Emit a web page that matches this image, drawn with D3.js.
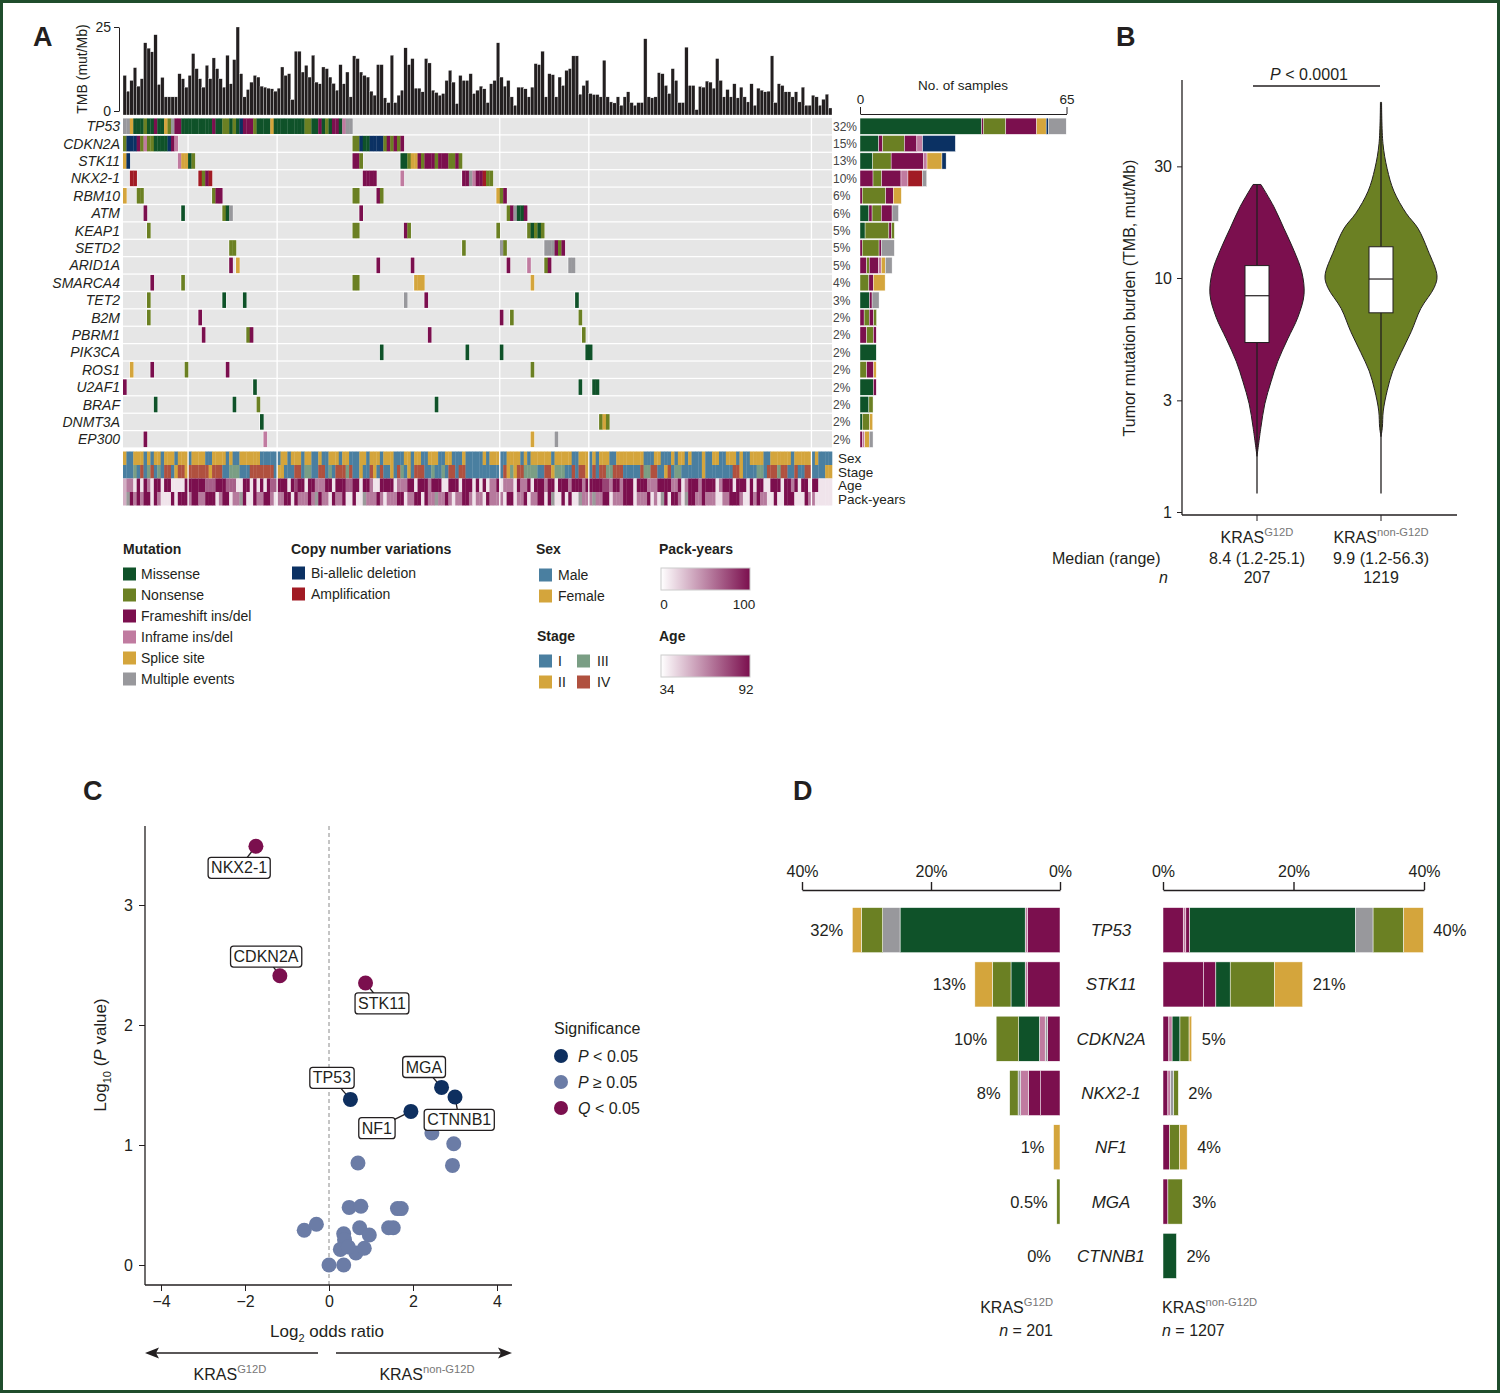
<!DOCTYPE html>
<html>
<head>
<meta charset="utf-8">
<script src="https://cdn.jsdelivr.net/npm/d3@7"></script>
<style>
body { margin: 0; background: #fff; }
svg text { font-family: "Liberation Sans", Arial, Helvetica, sans-serif; fill: #231f20; }
</style>
</head>
<body>
<div id="chart"></div>
<script>
// ---------------- data ----------------

// Panel A: TMB per sample (mut/Mb)
var tmb = [10.6,5.9,9.1,12.9,7.4,9.6,20.3,18.7,17.6,22.7,7.9,10.0,4.2,4.2,4.2,4.2,11.1,9.6,7.1,10.6,
  17.1,12.6,9.6,7.1,13.6,9.6,15.8,12.6,9.6,7.1,16.6,8.1,15.3,25.0,11.1,4.2,6.4,8.6,10.6,10.1,
  7.4,7.1,6.8,6.6,5.9,6.8,13.1,10.6,11.1,3.4,17.8,17.8,11.6,13.6,10.1,16.6,8.6,8.1,13.1,12.6,
  10.1,8.2,6.2,13.8,8.1,11.6,4.2,16.4,15.6,11.6,10.6,10.1,5.9,4.7,13.8,13.8,3.9,2.5,16.6,2.5,
  4.7,6.2,18.8,13.8,15.6,6.8,6.8,5.7,15.6,14.3,6.2,5.5,4.7,5.2,9.1,12.1,8.6,2.2,
  10.6,9.1,9.1,11.1,5.2,6.2,7.4,6.6,2.5,8.1,9.1,20.3,10.1,7.4,9.1,4.2,1.7,7.1,7.1,6.6,
  4.2,7.1,14.1,13.8,17.8,4.2,11.1,10.8,4.2,10.1,7.6,12.1,12.6,16.4,16.4,5.0,7.6,9.1,5.2,4.9,
  4.9,4.2,15.1,4.2,2.7,2.4,4.2,1.7,4.2,5.7,2.5,1.7,2.5,2.5,21.5,4.2,3.9,4.2,11.4,11.1,
  7.6,5.2,12.6,9.1,2.5,2.5,19.0,7.6,7.6,0.4,7.3,7.1,8.9,8.6,6.8,15.6,9.1,4.2,6.4,4.2,
  8.1,3.9,7.1,4.2,2.7,8.1,1.7,6.8,6.2,5.7,5.9,16.4,2.5,8.1,7.6,5.7,5.7,4.2,5.7,2.7,
  7.1,1.7,1.7,4.7,4.2,1.7,3.5,5.0,0.9];

var genes = ["TP53","CDKN2A","STK11","NKX2-1","RBM10","ATM","KEAP1","SETD2","ARID1A","SMARCA4",
  "TET2","B2M","PBRM1","PIK3CA","ROS1","U2AF1","BRAF","DNMT3A","EP300"];
var genePct = [32,15,13,10,6,6,5,5,5,4,3,2,2,2,2,2,2,2,2];

// M missense, N nonsense, F frameshift, I inframe, S splice, X multiple, D bi-allelic deletion, A amplification
// [first sample index, codes of consecutive samples]
var oncoRuns = {
  "TP53": [[0,"XXSMMMNMMFMMSNXFFMMMMMMMMMFMMNNMNMDFFFNMMMMSMMMMMMMMMNNMMFMNMFFMIXX"]],
  "CDKN2A": [[0,"NDDDFNINNMMMMDFI"],[67,"NNDMMDDDDNFNFNF"]],
  "STK11": [[0,"SD"],[16,"ISSMN"],[67,"FFN"],[81,"MMNSSFNFFFNFFFNNFN"]],
  "NKX2-1": [[2,"AA"],[22,"ANFA"],[70,"FFFF"],[81,"I"],[99,"FFXIFFANN"]],
  "RBM10": [[0,"S"],[4,"NN"],[26,"NFF"],[67,"NN"],[74,"FN"],[109,"SNF"]],
  "ATM": [[6,"F"],[17,"M"],[29,"NMX"],[69,"F"],[112,"NFXMMF"]],
  "KEAP1": [[7,"N"],[67,"NN"],[82,"FN"],[109,"N"],[118,"NMNMN"]],
  "SETD2": [[31,"NN"],[99,"N"],[110,"XN"],[123,"XXXFNF"]],
  "ARID1A": [[31,"F"],[33,"S"],[74,"F"],[84,"F"],[112,"F"],[118,"I"],[123,"NF"],[130,"XX"]],
  "SMARCA4": [[8,"F"],[17,"N"],[67,"NN"],[85,"SSS"],[119,"S"]],
  "TET2": [[7,"N"],[29,"M"],[35,"M"],[82,"X"],[88,"F"],[132,"M"]],
  "B2M": [[7,"N"],[22,"F"],[110,"F"],[113,"N"],[133,"N"]],
  "PBRM1": [[23,"F"],[36,"NF"],[89,"F"],[134,"N"]],
  "PIK3CA": [[75,"M"],[100,"M"],[110,"M"],[135,"MM"]],
  "ROS1": [[2,"S"],[8,"F"],[18,"N"],[30,"F"],[119,"N"]],
  "U2AF1": [[0,"F"],[38,"M"],[133,"M"],[137,"MM"]],
  "BRAF": [[9,"M"],[32,"M"],[39,"N"],[91,"M"]],
  "DNMT3A": [[40,"M"],[139,"NSN"]],
  "EP300": [[6,"F"],[41,"I"],[119,"S"],[126,"X"]]
};

// sample counts per alteration type (right bar plot)
var geneCounts = {
  "TP53": [["M",38.3],["F",0.5],["N",7.1],["F",9.7],["S",3.0],["D",0.7],["X",5.6]],
  "CDKN2A": [["M",5.9],["F",1.2],["N",6.9],["F",3.9],["I",1.8],["D",10.3]],
  "STK11": [["M",4.0],["N",5.8],["F",10.1],["I",1.2],["S",4.7],["D",1.3]],
  "NKX2-1": [["F",4.1],["N",2.7],["F",6.1],["I",2.2],["A",4.5],["X",1.4]],
  "RBM10": [["F",0.7],["N",7.4],["F",2.4],["S",2.5]],
  "ATM": [["M",2.8],["F",1.0],["N",2.9],["F",3.4],["X",2.0]],
  "KEAP1": [["M",1.6],["N",7.5],["F",0.8],["N",0.9]],
  "SETD2": [["F",0.7],["N",5.3],["F",0.7],["X",4.1]],
  "ARID1A": [["F",2.1],["N",0.8],["F",2.9],["I",0.9],["S",1.3],["X",2.1]],
  "SMARCA4": [["N",2.8],["F",1.4],["S",3.7]],
  "TET2": [["M",3.0],["F",0.8],["X",2.2]],
  "B2M": [["F",1.3],["N",1.6],["F",1.4],["N",0.9]],
  "PBRM1": [["F",2.1],["N",2.1],["F",0.9]],
  "PIK3CA": [["M",5.1]],
  "ROS1": [["N",2.1],["F",2.2],["S",0.8]],
  "U2AF1": [["M",4.2],["F",0.9]],
  "BRAF": [["M",2.8],["N",1.3]],
  "DNMT3A": [["M",0.7],["N",2.3],["S",1.0]],
  "EP300": [["F",0.7],["I",0.8],["S",1.4],["X",1.2]]
};

// clinical tracks (run length: letter + count). Sex F/M, Stage A=I B=II C=III D=IV
var sexRuns = "F1 M2 F3 M1 F1 M1 F2 M1 F3 M1 F3 M1 F4 M2 F4 M1 F1 M2 F6 M6 F2 M1 F3 M1 F2 M2 F1 M2 F3 M1 F2 M3 F2 M1 F3 M1 F3 M3 F2 M1 F2 M2 F3 M2 F2 M3 F1 M3 " +
  "M2 F1 M1 F3 M2 F4 M1 F1 M1 F6 M1 F5 M2 F3 M1 F1 M1 F3 M2 F8 M3 F2 M3 F1 M1 F2 M1 F1 M3 F1 M2 F2 M2 F3 M1 F1 M2 F4 M2 F6 M1 F5 M1 F1 M4";
var stageRuns = "A3 C1 A1 D1 A1 C1 D1 A1 C1 A1 D2 A1 B1 D2 B1 D6 B1 D3 A2 C3 A3 D7 A1 B2 A3 D2 A1 C2 A2 D2 A1 C1 A1 D3 C1 D1 A2 B1 A2 D1 B1 A1 D1 A2 B1 A1 D1 C1 A1 B1 A1 D3 A2 C1 A2 C1 A1 D2 A1 D2 A3 " +
  "A8 D1 B1 C1 B1 D2 C4 A2 D2 B1 C3 A2 D1 A1 D2 B1 A1 D1 A1 D2 C2 D3 A5 D1 C2 D2 A2 B1 D1 A1 C2 A6 B1 A8 D2 B1 A4 C2 A1 D3 C1 D2 A2 D1 A2 D2 A4 B2";
// age and pack-years as shade level 0-9 (x = not available)
var ageLevels = "3551919519 9199111199 9999666999 6661199191 9196699919 7991995559 9199966991 9951199991 5559919995 9991199919 991 " +
  "9191559155 5195591999 5991999599 9599999775 9959991999 5559999559 1599959999 1599919991 9199119991 9959199199 1111";
var packLevels = "3x95959919 5111919995 9955999159 9155x91195 5995155991 955595x955 1955911911 x555951555 9915599195 5x55951559 951 " +
  "5519555519 9155915599 19x1191911 x555x55991 5559991555 9151x91995 1x99559555 1155999511 9595511911 9991119551 1111";

// Panel B: violin profiles [TMB, relative density] and box summaries
var violinG12D = [[25.1,0.07],[20.2,0.30],[16.3,0.48],[13.1,0.66],[10.6,0.80],[8.5,0.84],[6.8,0.73],
  [5.5,0.55],[4.4,0.37],[3.6,0.25],[2.9,0.14],[2.3,0.07],[1.73,0.0]];
var violinOther = [[56.3,0.01],[37.5,0.035],[29.3,0.11],[23.5,0.23],[18.9,0.45],[16.3,0.66],[13.1,0.84],
  [10.2,1.0],[9.1,0.95],[7.4,0.71],[5.9,0.54],[4.8,0.36],[4.0,0.21],[3.3,0.11],[2.7,0.04],[2.3,0.024],[2.1,0.0]];
var boxStats = [
  {min: 1.2, q1: 5.3, med: 8.4, q3: 11.3, max: 25.1},
  {min: 1.2, q1: 7.1, med: 9.9, q3: 13.6, max: 56.3}
];
var groupMedian = ["8.4 (1.2-25.1)", "9.9 (1.2-56.3)"];
var groupN = ["207", "1219"];

// Panel C: volcano points (log2 OR, -log10 P)
var cLabeled = [
  {g: "NKX2-1", x: -1.74, y: 3.49, s: "Q", lx: -2.14, ly: 3.31},
  {g: "CDKN2A", x: -1.17, y: 2.41, s: "Q", lx: -1.5, ly: 2.57},
  {g: "STK11", x: 0.87, y: 2.35, s: "Q", lx: 1.26, ly: 2.18},
  {g: "TP53", x: 0.51, y: 1.38, s: "P", lx: 0.07, ly: 1.56},
  {g: "MGA", x: 2.68, y: 1.48, s: "P", lx: 2.26, ly: 1.65},
  {g: "NF1", x: 1.95, y: 1.28, s: "P", lx: 1.14, ly: 1.14},
  {g: "CTNNB1", x: 3.0, y: 1.40, s: "P", lx: 3.1, ly: 1.21}
];
var cOther = [[2.45,1.10],[2.97,1.01],[2.94,0.83],[0.69,0.85],[0.48,0.48],[0.76,0.49],[1.63,0.47],[1.72,0.47],
  [-0.59,0.29],[-0.30,0.34],[0.35,0.26],[0.37,0.21],[0.73,0.31],[0.96,0.25],[1.42,0.31],[1.53,0.31],
  [0.27,0.13],[0.64,0.10],[0.84,0.14],[0.0,0.0],[0.35,0.0],[0.46,0.15]];

// Panel D: percent of samples by alteration type
var dGenes = ["TP53","STK11","CDKN2A","NKX2-1","NF1","MGA","CTNNB1"];
var dPctG12D = ["32%","13%","10%","8%","1%","0.5%","0%"];
var dPctOther = ["40%","21%","5%","2%","4%","3%","2%"];
var dSegG12D = [
  [["F",5.0],["I",0.4],["M",19.4],["X",2.7],["N",3.3],["S",1.4]],
  [["F",5.0],["I",0.4],["M",2.2],["N",2.9],["S",2.7]],
  [["F",1.9],["X",0.4],["I",0.9],["M",3.2],["N",3.5]],
  [["F",3.0],["F",1.9],["I",1.2],["X",0.4],["N",1.3]],
  [["S",1.0]],
  [["N",0.5]],
  []
];
var dSegOther = [
  [["F",3.1],["I",0.4],["F",0.6],["M",25.4],["X",2.7],["N",4.7],["S",3.0]],
  [["F",6.2],["F",1.9],["M",2.2],["N",6.8],["S",4.3]],
  [["F",0.9],["I",0.5],["M",1.2],["N",1.4],["S",0.4]],
  [["F",0.75],["I",0.4],["X",0.5],["N",0.7]],
  [["F",1.0],["N",1.5],["S",1.2]],
  [["F",0.75],["N",2.2]],
  [["M",2.06]]
];

// ---------------- colours ----------------
var mutColor = {M: "#0f5229", N: "#6b8023", F: "#7b0f4e", I: "#c07ba0", S: "#d4a53c", X: "#98989c", D: "#0b3163", A: "#a11b24"};
var sexColor = {M: "#4a7fa0", F: "#d4a53c"};
var stageColor = {A: "#4a7fa0", B: "#d4a53c", C: "#7a9e84", D: "#b0513f"};
var shade = d3.scaleLinear().domain([0, 9]).range(["#ffffff", "#7b0f4e"]);
var sigColor = {Q: "#7b0f4e", P: "#0e2f5f", ns: "#6b7ca6"};

function rle(s) {
  var out = [];
  s.replace(/([A-Z])(\d+)/g, function(m, c, n) { for (var i = 0; i < +n; i++) out.push(c); });
  return out;
}
function levels(s) { return s.replace(/\s/g, "").split(""); }

var W = 1500, H = 1393;
var svg = d3.select("#chart").append("svg").attr("width", W).attr("height", H);

svg.append("rect").attr("x", 1.5).attr("y", 1.5).attr("width", W - 3).attr("height", H - 3)
  .attr("fill", "#fff").attr("stroke", "#1f4d2c").attr("stroke-width", 3);

// panel letters
[["A", 33, 46], ["B", 1116, 46], ["C", 83, 800], ["D", 793, 800]].forEach(function(p) {
  svg.append("text").attr("x", p[1]).attr("y", p[2]).attr("font-size", 27).attr("font-weight", "bold").text(p[0]);
});

// ================= Panel A =================
var N = tmb.length;
var xs = d3.scaleBand().domain(d3.range(N)).range([123, 832]);
var yT = d3.scaleLinear().domain([0, 25]).range([111, 27]);
var barBase = 115;

var gA = svg.append("g");

gA.selectAll(".tmb").data(tmb).enter().append("rect")
  .attr("x", function(d, i) { return xs(i); })
  .attr("y", function(d) { return yT(d); })
  .attr("width", xs.bandwidth())
  .attr("height", function(d) { return barBase - yT(d); })
  .attr("fill", "#231f20").attr("stroke", "#fff").attr("stroke-width", 0.3);

var tmbAxis = gA.append("g").attr("transform", "translate(119,0)")
  .call(d3.axisLeft(yT).tickValues([0, 25]).tickSize(5).tickSizeOuter(0));
tmbAxis.selectAll("text").attr("font-size", 14).attr("font-family", "Liberation Sans, Arial").attr("fill", "#231f20");
tmbAxis.selectAll("path,line").attr("stroke", "#231f20");

gA.append("text").attr("transform", "translate(87,69) rotate(-90)").attr("text-anchor", "middle")
  .attr("font-size", 14).text("TMB (mut/Mb)");

// oncoprint rows
var yRow = d3.scaleBand().domain(genes).range([117.5, 448]).paddingInner(0.07).paddingOuter(0.035);

gA.selectAll(".rowbg").data(genes).enter().append("rect")
  .attr("x", 123).attr("width", 832 - 123)
  .attr("y", function(g) { return yRow(g); }).attr("height", yRow.bandwidth())
  .attr("fill", "#e6e6e6");

// clinical tracks
var tracks = [
  {name: "Sex", vals: rle(sexRuns), col: function(v) { return sexColor[v]; }},
  {name: "Stage", vals: rle(stageRuns), col: function(v) { return stageColor[v]; }},
  {name: "Age", vals: levels(ageLevels), col: function(v) { return v === "x" ? "#9a9a9a" : shade(+v); }},
  {name: "Pack-years", vals: levels(packLevels), col: function(v) { return v === "x" ? "#9a9a9a" : shade(+v); }}
];
var yTrack = d3.scaleBand().domain(tracks.map(function(t) { return t.name; })).range([451.5, 505.5]);

tracks.forEach(function(t) {
  gA.append("g").selectAll("rect").data(t.vals.slice(0, N)).enter().append("rect")
    .attr("x", function(d, i) { return xs(i); })
    .attr("width", xs.bandwidth() + 0.3)
    .attr("y", yTrack(t.name)).attr("height", yTrack.bandwidth())
    .attr("fill", function(d) { return t.col(d); });
  gA.append("text").attr("x", 838).attr("y", yTrack(t.name) + yTrack.bandwidth() / 2 + 5)
    .attr("font-size", 13.5).text(t.name);
});

// white group separators
var gridAt = [19, 45, 110, 136, 201];
gA.selectAll(".grid").data(gridAt).enter().append("line")
  .attr("x1", function(d) { return xs(d); }).attr("x2", function(d) { return xs(d); })
  .attr("y1", 117).attr("y2", 506)
  .attr("stroke", "#fff").attr("stroke-width", 1.3);

// mutation cells: one rect per sample, white outline per run
genes.forEach(function(g) {
  var cells = [];
  oncoRuns[g].forEach(function(r) {
    r[1].split("").forEach(function(c, k) { cells.push({i: r[0] + k, c: c}); });
  });
  var gg = gA.append("g");
  gg.selectAll(".run").data(oncoRuns[g]).enter().append("rect")
    .attr("x", function(r) { return xs(r[0]) - 0.6; })
    .attr("width", function(r) { return xs.bandwidth() * r[1].length + 1.2; })
    .attr("y", yRow(g) - 0.3).attr("height", yRow.bandwidth() + 0.6)
    .attr("fill", "#fff");
  gg.selectAll(".cell").data(cells).enter().append("rect")
    .attr("x", function(d) { return xs(d.i); })
    .attr("width", xs.bandwidth() + 0.25)
    .attr("y", yRow(g) + 0.3).attr("height", yRow.bandwidth() - 0.6)
    .attr("fill", function(d) { return mutColor[d.c]; });
});

gA.selectAll(".gname").data(genes).enter().append("text")
  .attr("x", 120).attr("y", function(g) { return yRow(g) + yRow.bandwidth() / 2 + 5; })
  .attr("text-anchor", "end").attr("font-size", 14).attr("font-style", "italic")
  .text(function(g) { return g; });

gA.selectAll(".gpct").data(genes).enter().append("text")
  .attr("x", 833).attr("y", function(g) { return yRow(g) + yRow.bandwidth() / 2 + 4.5; })
  .attr("font-size", 12).style("fill", "#444")
  .text(function(g, i) { return genePct[i] + "%"; });

// sample count bars
var xN = d3.scaleLinear().domain([0, 65]).range([860, 1066.5]);
genes.forEach(function(g) {
  var acc = 0;
  var segs = geneCounts[g].map(function(s) { var o = {c: s[0], a: acc, b: acc + s[1]}; acc += s[1]; return o; });
  gA.append("g").selectAll("rect").data(segs).enter().append("rect")
    .attr("x", function(d) { return xN(d.a); })
    .attr("width", function(d) { return xN(d.b) - xN(d.a); })
    .attr("y", yRow(g)).attr("height", yRow.bandwidth())
    .attr("fill", function(d) { return mutColor[d.c]; })
    .attr("stroke", "#fff").attr("stroke-width", 0.4);
});
var nAxis = gA.append("g").attr("transform", "translate(0,114)")
  .call(d3.axisTop(xN).tickValues([0, 65]).tickSize(7).tickSizeOuter(0).tickPadding(3));
nAxis.selectAll("text").attr("font-size", 13.5).attr("font-family", "Liberation Sans, Arial").attr("fill", "#231f20");
nAxis.selectAll("path,line").attr("stroke", "#231f20");
gA.append("text").attr("x", 963).attr("y", 90).attr("text-anchor", "middle").attr("font-size", 13.5).text("No. of samples");

// ----- legend A -----
var mutLegend = [["M", "Missense"], ["N", "Nonsense"], ["F", "Frameshift ins/del"], ["I", "Inframe ins/del"], ["S", "Splice site"], ["X", "Multiple events"]];
var cnvLegend = [["D", "Bi-allelic deletion"], ["A", "Amplification"]];
var sexLegend = [["M", "Male"], ["F", "Female"]];
var stageLegend = [["A", "I"], ["C", "III"], ["B", "II"], ["D", "IV"]];

function header(x, y, t) {
  svg.append("text").attr("x", x).attr("y", y).attr("font-size", 14).attr("font-weight", "bold").text(t);
}
function item(x, yc, col, label, tx) {
  svg.append("rect").attr("x", x).attr("y", yc - 6.5).attr("width", 13).attr("height", 13).attr("fill", col);
  svg.append("text").attr("x", tx).attr("y", yc + 5).attr("font-size", 14).text(label);
}
header(123, 554, "Mutation");
mutLegend.forEach(function(d, i) { item(123, 574 + i * 21, mutColor[d[0]], d[1], 141); });
header(291, 554, "Copy number variations");
cnvLegend.forEach(function(d, i) { item(292, 573 + i * 21, mutColor[d[0]], d[1], 311); });
header(536, 554, "Sex");
sexLegend.forEach(function(d, i) { item(539, 575 + i * 21, sexColor[d[0]], d[1], 558); });
header(537, 641, "Stage");
stageLegend.forEach(function(d, i) {
  var col = i % 2, row = Math.floor(i / 2);
  item(539 + col * 38, 661 + row * 21, stageColor[d[0]], d[1], 558 + col * 39);
});

var defs = svg.append("defs");
var grad = defs.append("linearGradient").attr("id", "shadeGrad");
grad.append("stop").attr("offset", "0%").attr("stop-color", "#ffffff");
grad.append("stop").attr("offset", "100%").attr("stop-color", "#7b0f4e");

var shadeLegend = [
  {name: "Pack-years", y: 554, bar: 568, lo: "0", hi: "100", labelY: 609, loX: 664, hiX: 744},
  {name: "Age", y: 641, bar: 655, lo: "34", hi: "92", labelY: 694, loX: 667, hiX: 746}
];
shadeLegend.forEach(function(d) {
  header(659, d.y, d.name);
  svg.append("rect").attr("x", 661).attr("y", d.bar).attr("width", 89).attr("height", 22)
    .attr("fill", "url(#shadeGrad)").attr("stroke", "#ccc").attr("stroke-width", 1);
  svg.append("text").attr("x", d.loX).attr("y", d.labelY).attr("text-anchor", "middle").attr("font-size", 13.5).text(d.lo);
  svg.append("text").attr("x", d.hiX).attr("y", d.labelY).attr("text-anchor", "middle").attr("font-size", 13.5).text(d.hi);
});

// ================= Panel B =================
var gB = svg.append("g");
var yB = d3.scaleLog().domain([1, 10]).range([512, 278]);
var xB = d3.scalePoint().domain([0, 1]).range([1257, 1381]);
var wB = d3.scaleLinear().domain([0, 1]).range([0, 56]);
var violinFill = ["#7b0f4e", "#6b8023"];

[violinG12D, violinOther].forEach(function(prof, k) {
  var cx = xB(k);
  var area = d3.area().curve(d3.curveCatmullRom)
    .y(function(d) { return yB(d[0]); })
    .x0(function(d) { return cx - wB(d[1]); })
    .x1(function(d) { return cx + wB(d[1]); });
  gB.append("path").datum(prof).attr("d", area)
    .attr("fill", violinFill[k]).attr("stroke", "#231f20").attr("stroke-width", 1);
  var b = boxStats[k];
  gB.append("line").attr("x1", cx).attr("x2", cx).attr("y1", yB(b.min)).attr("y2", yB(b.max))
    .attr("stroke", "#231f20").attr("stroke-width", 1.3);
  gB.append("rect").attr("x", cx - 12).attr("width", 24)
    .attr("y", yB(b.q3)).attr("height", yB(b.q1) - yB(b.q3))
    .attr("fill", "#fff").attr("stroke", "#231f20").attr("stroke-width", 1);
  gB.append("line").attr("x1", cx - 12).attr("x2", cx + 12).attr("y1", yB(b.med)).attr("y2", yB(b.med))
    .attr("stroke", "#231f20").attr("stroke-width", 1.2);
});

gB.append("line").attr("x1", 1182).attr("x2", 1182).attr("y1", 80).attr("y2", 515).attr("stroke", "#231f20").attr("stroke-width", 1.3);
gB.append("line").attr("x1", 1182).attr("x2", 1457).attr("y1", 515).attr("y2", 515).attr("stroke", "#231f20").attr("stroke-width", 1.3);
var bAxis = gB.append("g").attr("transform", "translate(1182,0)")
  .call(d3.axisLeft(yB).tickValues([1, 3, 10, 30]).tickFormat(d3.format("d")).tickSize(5).tickPadding(5));
bAxis.select(".domain").remove();
bAxis.selectAll("text").attr("font-size", 16).attr("font-family", "Liberation Sans, Arial").attr("fill", "#231f20");
bAxis.selectAll("line").attr("stroke", "#231f20");
[0, 1].forEach(function(k) {
  gB.append("line").attr("x1", xB(k)).attr("x2", xB(k)).attr("y1", 515).attr("y2", 521).attr("stroke", "#231f20");
});

gB.append("text").attr("transform", "translate(1135,298) rotate(-90)").attr("text-anchor", "middle")
  .attr("font-size", 16).text("Tumor mutation burden (TMB, mut/Mb)");

var pt = gB.append("text").attr("x", 1309).attr("y", 80).attr("text-anchor", "middle").attr("font-size", 16);
pt.append("tspan").attr("font-style", "italic").text("P");
pt.append("tspan").text(" < 0.0001");
gB.append("line").attr("x1", 1253).attr("x2", 1380).attr("y1", 86).attr("y2", 86).attr("stroke", "#231f20").attr("stroke-width", 1.3);

function kras(sel, x, y, anchor, sup, fs) {
  var t = sel.append("text").attr("x", x).attr("y", y).attr("text-anchor", anchor).attr("font-size", fs);
  t.append("tspan").text("KRAS");
  t.append("tspan").attr("dy", -7).attr("font-size", fs * 0.7).style("fill", "#777").text(sup);
  return t;
}
kras(gB, xB(0), 543, "middle", "G12D", 16);
kras(gB, xB(1), 543, "middle", "non-G12D", 16);
gB.append("text").attr("x", 1052).attr("y", 564).attr("font-size", 16).text("Median (range)");
gB.append("text").attr("x", 1168).attr("y", 583).attr("text-anchor", "end").attr("font-size", 16).attr("font-style", "italic").text("n");
[0, 1].forEach(function(k) {
  gB.append("text").attr("x", xB(k)).attr("y", 564).attr("text-anchor", "middle").attr("font-size", 16).text(groupMedian[k]);
  gB.append("text").attr("x", xB(k)).attr("y", 583).attr("text-anchor", "middle").attr("font-size", 16).text(groupN[k]);
});

// ================= Panel C =================
var gC = svg.append("g");
var xC = d3.scaleLinear().domain([-4, 4]).range([161, 497]);
var yC = d3.scaleLinear().domain([0, 3]).range([1265, 905]);

gC.append("line").attr("x1", xC(0)).attr("x2", xC(0)).attr("y1", 826).attr("y2", 1285)
  .attr("stroke", "#8a8a8a").attr("stroke-width", 1).attr("stroke-dasharray", "4,3");
gC.append("line").attr("x1", 145).attr("x2", 145).attr("y1", 826).attr("y2", 1285).attr("stroke", "#231f20").attr("stroke-width", 1.3);
gC.append("line").attr("x1", 145).attr("x2", 512).attr("y1", 1285).attr("y2", 1285).attr("stroke", "#231f20").attr("stroke-width", 1.3);

var cy = gC.append("g").attr("transform", "translate(145,0)")
  .call(d3.axisLeft(yC).tickValues([0, 1, 2, 3]).tickFormat(d3.format("d")).tickSize(6).tickPadding(6));
cy.select(".domain").remove();
var cx = gC.append("g").attr("transform", "translate(0,1285)")
  .call(d3.axisBottom(xC).tickValues([-4, -2, 0, 2, 4]).tickSize(6).tickPadding(5));
cx.select(".domain").remove();
[cy, cx].forEach(function(a) {
  a.selectAll("text").attr("font-size", 16).attr("font-family", "Liberation Sans, Arial").attr("fill", "#231f20");
  a.selectAll("line").attr("stroke", "#231f20");
});

var xl = gC.append("text").attr("x", 327).attr("y", 1337).attr("text-anchor", "middle").attr("font-size", 17);
xl.append("tspan").text("Log");
xl.append("tspan").attr("dy", 5).attr("font-size", 11).text("2");
xl.append("tspan").attr("dy", -5).text(" odds ratio");

var yl = gC.append("text").attr("transform", "translate(106,1055) rotate(-90)").attr("text-anchor", "middle").attr("font-size", 17);
yl.append("tspan").text("Log");
yl.append("tspan").attr("dy", 5).attr("font-size", 11).text("10");
yl.append("tspan").attr("dy", -5).text(" (");
yl.append("tspan").attr("font-style", "italic").text("P");
yl.append("tspan").text(" value)");

gC.selectAll(".lk").data(cLabeled).enter().append("line")
  .attr("x1", function(d) { return xC(d.x); }).attr("y1", function(d) { return yC(d.y); })
  .attr("x2", function(d) { return xC(d.lx); }).attr("y2", function(d) { return yC(d.ly); })
  .attr("stroke", "#231f20").attr("stroke-width", 1.3);

gC.selectAll(".ns").data(cOther).enter().append("circle")
  .attr("cx", function(d) { return xC(d[0]); }).attr("cy", function(d) { return yC(d[1]); })
  .attr("r", 7.5).attr("fill", sigColor.ns);
gC.selectAll(".sig").data(cLabeled).enter().append("circle")
  .attr("cx", function(d) { return xC(d.x); }).attr("cy", function(d) { return yC(d.y); })
  .attr("r", 7.5).attr("fill", function(d) { return sigColor[d.s]; });

cLabeled.forEach(function(d) {
  var lg = gC.append("g");
  var r = lg.append("rect");
  var t = lg.append("text").attr("x", xC(d.lx)).attr("y", yC(d.ly) + 5.5).attr("text-anchor", "middle")
    .attr("font-size", 16).text(d.g);
  var bb = t.node().getBBox();
  r.attr("x", bb.x - 3).attr("width", bb.width + 6).attr("y", yC(d.ly) - 10.5).attr("height", 21)
    .attr("rx", 3).attr("fill", "#fff").attr("stroke", "#231f20").attr("stroke-width", 1.3);
});

// significance legend
var sigLegend = [["P", "P", " < 0.05"], ["ns", "P", " \u2265 0.05"], ["Q", "Q", " < 0.05"]];
gC.append("text").attr("x", 554).attr("y", 1034).attr("font-size", 16).text("Significance");
sigLegend.forEach(function(d, i) {
  var yy = 1056 + i * 26;
  gC.append("circle").attr("cx", 561).attr("cy", yy).attr("r", 7).attr("fill", sigColor[d[0]]);
  var t = gC.append("text").attr("x", 578).attr("y", yy + 6).attr("font-size", 16);
  t.append("tspan").attr("font-style", "italic").text(d[1]);
  t.append("tspan").text(d[2]);
});

// direction arrows
gC.append("line").attr("x1", 318).attr("x2", 152).attr("y1", 1353).attr("y2", 1353).attr("stroke", "#231f20").attr("stroke-width", 1.5);
gC.append("path").attr("d", "M145,1353 L159,1347.5 L156,1353 L159,1358.5 Z").attr("fill", "#231f20");
gC.append("line").attr("x1", 336).attr("x2", 505).attr("y1", 1353).attr("y2", 1353).attr("stroke", "#231f20").attr("stroke-width", 1.5);
gC.append("path").attr("d", "M512,1353 L498,1347.5 L501,1353 L498,1358.5 Z").attr("fill", "#231f20");
kras(gC, 230, 1380, "middle", "G12D", 16);
kras(gC, 427, 1380, "middle", "non-G12D", 16);

// ================= Panel D =================
var gD = svg.append("g");
var yD = d3.scaleBand().domain(dGenes).range([903, 1283]).paddingInner(0.17).paddingOuter(0.085);
var xL = d3.scaleLinear().domain([0, 40]).range([1060, 802]);
var xR = d3.scaleLinear().domain([0, 40]).range([1163, 1424]);

[[xL, 0], [xR, 1]].forEach(function(p) {
  var ax = gD.append("g").attr("transform", "translate(0,890)")
    .call(d3.axisTop(p[0]).tickValues([0, 20, 40]).tickFormat(function(d) { return d + "%"; })
      .tickSize(8).tickSizeOuter(0).tickPadding(5));
  ax.selectAll("text").attr("font-size", 16).attr("font-family", "Liberation Sans, Arial").attr("fill", "#231f20");
  ax.selectAll("path,line").attr("stroke", "#231f20").attr("stroke-width", 1.4);
});

function stack(list) {
  var acc = 0;
  return list.map(function(s) { var o = {c: s[0], a: acc, b: acc + s[1]}; acc += s[1]; return o; });
}
dGenes.forEach(function(g, i) {
  var left = stack(dSegG12D[i]), right = stack(dSegOther[i]);
  var totL = left.length ? left[left.length - 1].b : 0;
  var totR = right.length ? right[right.length - 1].b : 0;
  gD.append("g").selectAll("rect").data(left).enter().append("rect")
    .attr("x", function(d) { return xL(d.b); })
    .attr("width", function(d) { return xL(d.a) - xL(d.b); })
    .attr("y", yD(g)).attr("height", yD.bandwidth())
    .attr("fill", function(d) { return mutColor[d.c]; })
    .attr("stroke", "#fff").attr("stroke-width", 0.5);
  gD.append("g").selectAll("rect").data(right).enter().append("rect")
    .attr("x", function(d) { return xR(d.a); })
    .attr("width", function(d) { return xR(d.b) - xR(d.a); })
    .attr("y", yD(g)).attr("height", yD.bandwidth())
    .attr("fill", function(d) { return mutColor[d.c]; })
    .attr("stroke", "#fff").attr("stroke-width", 0.5);
  var yc = yD(g) + yD.bandwidth() / 2 + 6;
  gD.append("text").attr("x", xL(totL) - 9).attr("y", yc).attr("text-anchor", "end").attr("font-size", 16.5).text(dPctG12D[i]);
  gD.append("text").attr("x", xR(totR) + 10).attr("y", yc).attr("font-size", 16.5).text(dPctOther[i]);
  gD.append("text").attr("x", 1111).attr("y", yc).attr("text-anchor", "middle").attr("font-size", 17)
    .attr("font-style", "italic").text(g);
});

kras(gD, 1053, 1313, "end", "G12D", 16);
kras(gD, 1162, 1313, "start", "non-G12D", 16);
var n1 = gD.append("text").attr("x", 1053).attr("y", 1336).attr("text-anchor", "end").attr("font-size", 16);
n1.append("tspan").attr("font-style", "italic").text("n");
n1.append("tspan").text(" = 201");
var n2 = gD.append("text").attr("x", 1162).attr("y", 1336).attr("font-size", 16);
n2.append("tspan").attr("font-style", "italic").text("n");
n2.append("tspan").text(" = 1207");
</script>
</body>
</html>
